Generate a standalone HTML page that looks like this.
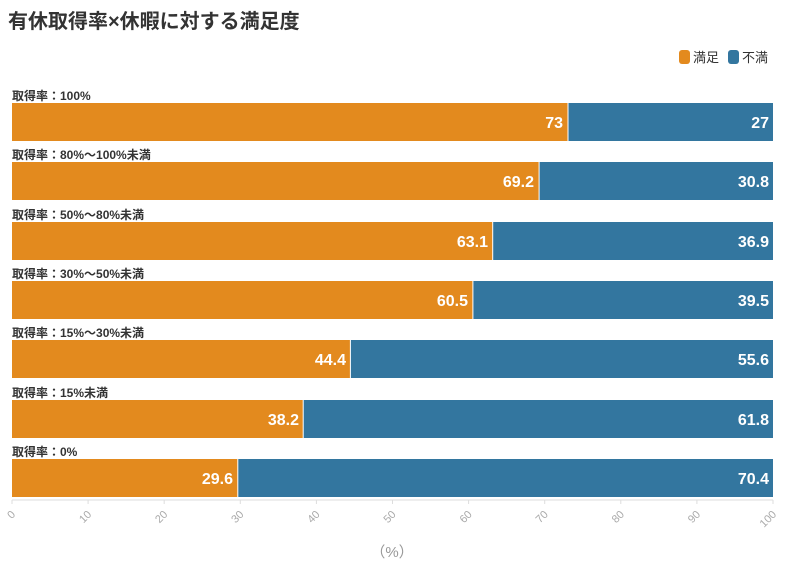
<!DOCTYPE html>
<html><head><meta charset="utf-8"><style>
body{margin:0;background:#fff;}
svg{display:block;font-family:"Liberation Sans","Noto Sans CJK JP",sans-serif;}
.l{font-size:12px;font-weight:bold;fill:#333}
.v{font-size:16px;font-weight:bold;fill:#fff;text-anchor:end}
.o{fill:#e38a1e}.b{fill:#33769f}
.t{font-size:11px;fill:#aaa;text-anchor:end}
</style></head><body>
<svg width="791" height="577" viewBox="0 0 791 577">
<text x="8" y="28" font-size="20" font-weight="bold" fill="#333">有休取得率×休暇に対する満足度</text>
<rect x="679" y="50" width="11" height="14" rx="3" fill="#e38a1e"/>
<text x="693" y="62" font-size="13" fill="#333">満足</text>
<rect x="728" y="50" width="11" height="14" rx="3" fill="#33769f"/>
<text x="742" y="62" font-size="13" fill="#333">不満</text>

<text class="l" x="12" y="100">取得率：100%</text>
<rect class="o" x="12" y="103" width="555.5" height="38"/>
<rect class="b" x="568.5" y="103" width="204.5" height="38"/>
<text class="v" x="563" y="128">73</text><text class="v" x="769" y="128">27</text>

<text class="l" x="12" y="159">取得率：80%～100%未満</text>
<rect class="o" x="12" y="162" width="526.6" height="38"/>
<rect class="b" x="539.6" y="162" width="233.4" height="38"/>
<text class="v" x="534" y="187">69.2</text><text class="v" x="769" y="187">30.8</text>

<text class="l" x="12" y="219">取得率：50%～80%未満</text>
<rect class="o" x="12" y="222" width="480.2" height="38"/>
<rect class="b" x="493.2" y="222" width="279.8" height="38"/>
<text class="v" x="488" y="247">63.1</text><text class="v" x="769" y="247">36.9</text>

<text class="l" x="12" y="278">取得率：30%～50%未満</text>
<rect class="o" x="12" y="281" width="460.4" height="38"/>
<rect class="b" x="473.4" y="281" width="299.6" height="38"/>
<text class="v" x="468" y="306">60.5</text><text class="v" x="769" y="306">39.5</text>

<text class="l" x="12" y="337">取得率：15%～30%未満</text>
<rect class="o" x="12" y="340" width="337.9" height="38"/>
<rect class="b" x="350.9" y="340" width="422.1" height="38"/>
<text class="v" x="346" y="365">44.4</text><text class="v" x="769" y="365">55.6</text>

<text class="l" x="12" y="397">取得率：15%未満</text>
<rect class="o" x="12" y="400" width="290.7" height="38"/>
<rect class="b" x="303.7" y="400" width="469.3" height="38"/>
<text class="v" x="299" y="425">38.2</text><text class="v" x="769" y="425">61.8</text>

<text class="l" x="12" y="456">取得率：0%</text>
<rect class="o" x="12" y="459" width="225.3" height="38"/>
<rect class="b" x="238.3" y="459" width="534.7" height="38"/>
<text class="v" x="233" y="484">29.6</text><text class="v" x="769" y="484">70.4</text>

<line x1="12" y1="500" x2="773" y2="500" stroke="#ddd"/>
<g stroke="#ddd">
<line x1="12" y1="500" x2="12" y2="504"/><line x1="88.1" y1="500" x2="88.1" y2="504"/><line x1="164.2" y1="500" x2="164.2" y2="504"/><line x1="240.3" y1="500" x2="240.3" y2="504"/><line x1="316.4" y1="500" x2="316.4" y2="504"/><line x1="392.5" y1="500" x2="392.5" y2="504"/><line x1="468.6" y1="500" x2="468.6" y2="504"/><line x1="544.7" y1="500" x2="544.7" y2="504"/><line x1="620.8" y1="500" x2="620.8" y2="504"/><line x1="696.9" y1="500" x2="696.9" y2="504"/><line x1="773" y1="500" x2="773" y2="504"/>
</g>
<text class="t" transform="translate(16,515) rotate(-45)">0</text>
<text class="t" transform="translate(92.1,515) rotate(-45)">10</text>
<text class="t" transform="translate(168.2,515) rotate(-45)">20</text>
<text class="t" transform="translate(244.3,515) rotate(-45)">30</text>
<text class="t" transform="translate(320.4,515) rotate(-45)">40</text>
<text class="t" transform="translate(396.5,515) rotate(-45)">50</text>
<text class="t" transform="translate(472.6,515) rotate(-45)">60</text>
<text class="t" transform="translate(548.7,515) rotate(-45)">70</text>
<text class="t" transform="translate(624.8,515) rotate(-45)">80</text>
<text class="t" transform="translate(700.9,515) rotate(-45)">90</text>
<text class="t" transform="translate(777,515) rotate(-45)">100</text>
<text x="392" y="557" font-size="15" fill="#999" text-anchor="middle">（%）</text>
</svg>
</body></html>
